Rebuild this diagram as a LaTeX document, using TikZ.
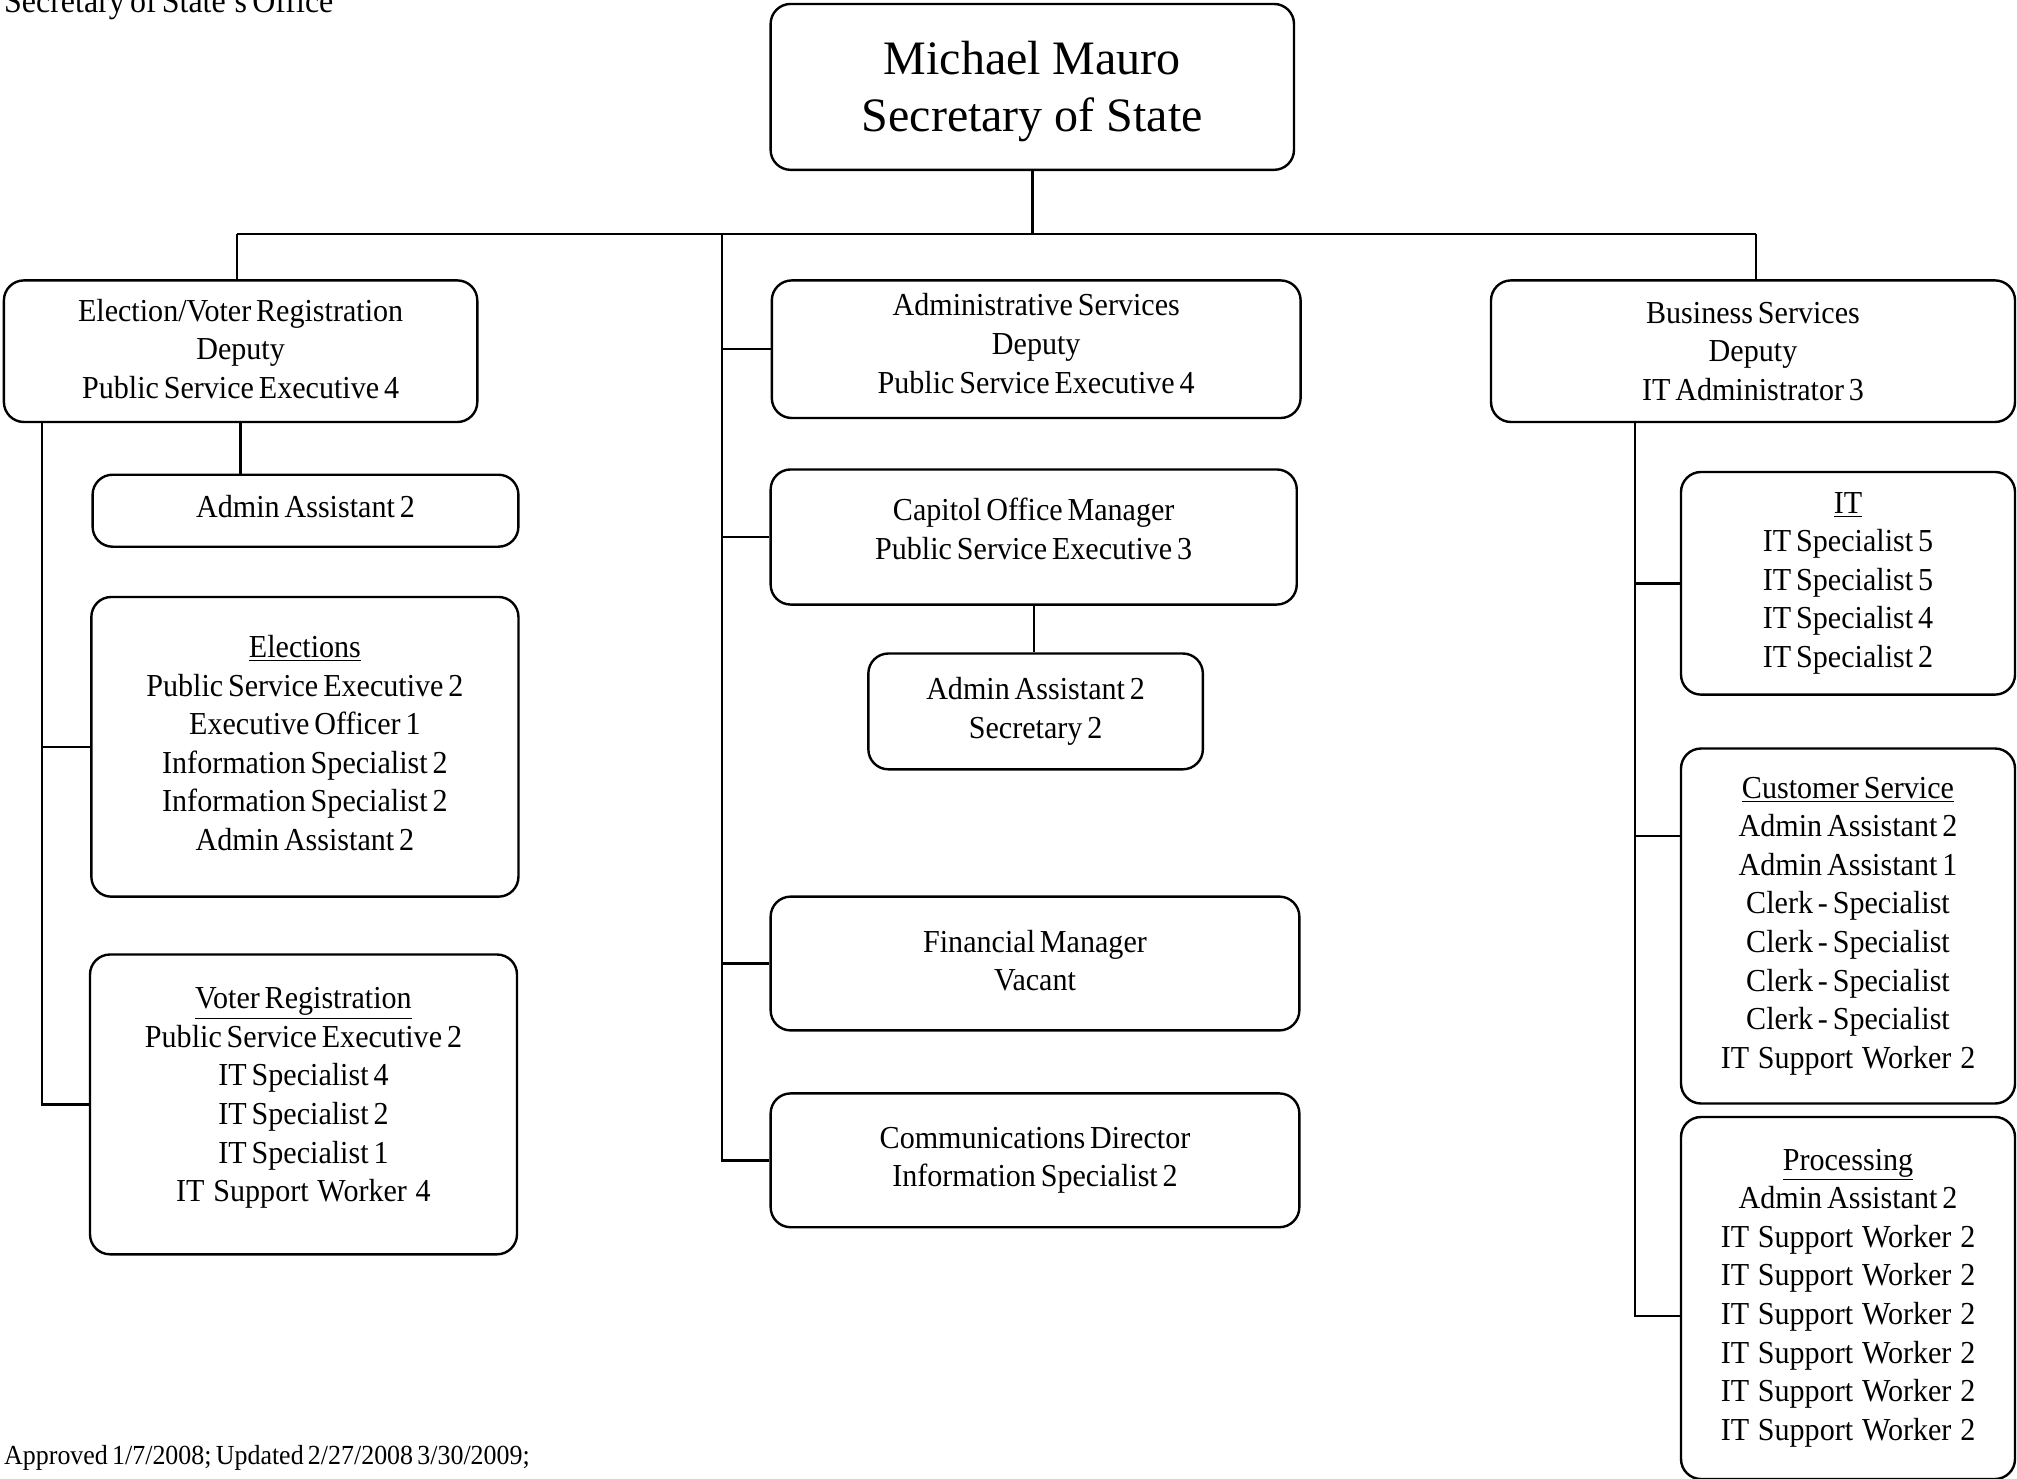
\documentclass[tikz,border=0pt]{standalone}
\usepackage{fontspec}
\setmainfont{Liberation Serif}[FakeStretch=0.94,WordSpace=0.65]
\newfontfamily\titlefont{Liberation Serif}
\usepackage{tikz}
\usetikzlibrary{positioning}
\usetikzlibrary{calc}
\tikzset{
    every picture/.append style={
        line width=1.2pt
    }
}
\tikzset{
    boxw/.style={minimum width=#1*0.5pt},
    boxh/.style={minimum height=#1*0.5pt},
    post/.style={shape=rectangle, draw=black, rounded corners=10pt, inner sep=0pt,
        align=center, font=\fontsize{16pt}{19.3pt}\selectfont},
}
\newcommand{\lowpad}[1]{\rule[-#1]{0pt}{0pt}}   % extra depth lifts the text
\newcommand{\wsp}{\spaceskip=4.4pt\relax}        % wider word spaces

\begin{document}
\begin{tikzpicture}[x=0.5pt, y=-0.5pt]
		\useasboundingbox (0,0) rectangle (2017,1478);
		\clip (0,0) rectangle (2017,1478);
		% headings
		\node[anchor=base west, inner sep=0pt, font=\fontsize{17pt}{20pt}\selectfont] (office) at (3,12.7) {Secretary of State's Office};
		\node[anchor=base west, inner sep=0pt, font=\fontsize{13.8pt}{16pt}\selectfont] (approved) at (3,1464) {Approved 1/7/2008; Updated 2/27/2008 3/30/2009;};
		
		\node[post, boxw=523.4, boxh=165.9, font=\titlefont\fontsize{24pt}{28.3pt}\selectfont] (chief) at (1032.3,86.9) {\rule{0pt}{21.5pt}Michael Mauro\\Secretary of State};
		
		% left column
		\node[post, boxw=473.4, boxh=141.6] (evr) at (240.6,351.2) {Election/Voter Registration\\Deputy\\Public Service Executive 4\lowpad{2.6pt}};
		\node[post, boxw=425.8, boxh=72] (evraa) at (305.5,510.7) {Admin Assistant 2\lowpad{3.9pt}};
		\node[post, boxw=427.1, boxh=299.7] (elec) at (304.9,746.8) {\underline{Elections}\\Public Service Executive 2\\Executive Officer 1\\Information Specialist 2\\Information Specialist 2\\Admin Assistant 2\lowpad{3.9pt}};
		\node[post, boxw=427, boxh=299.8] (voter) at (303.5,1104.4) {\underline{Voter Registration}\\Public Service Executive 2\\IT Specialist 4\\IT Specialist 2\\IT Specialist 1\\{\wsp IT Support Worker 4}\lowpad{9.9pt}};
		
		% middle column
		\node[post, boxw=528.8, boxh=137.6] (adm) at (1036.2,349.2) {Administrative Services\\Deputy\\Public Service Executive 4\lowpad{5.8pt}};
		\node[post, boxw=526.1, boxh=135.1] (cap) at (1033.7,537) {Capitol Office Manager\\Public Service Executive 3\lowpad{8.4pt}};
		\node[post, boxw=334.5, boxh=115.8] (capaa) at (1035.6,711.4) {Admin Assistant 2\\Secretary 2};
		\node[post, boxw=528.7, boxh=133.8] (fin) at (1035,963.5) {Financial Manager\\Vacant\lowpad{3.2pt}};
		\node[post, boxw=528.7, boxh=133.8] (comm) at (1035,1160.3) {Communications Director\\Information Specialist 2};
		
		% right column
		\node[post, boxw=524, boxh=141.6] (bus) at (1753,351.2) {Business Services\\Deputy\\IT Administrator 3};
		\node[post, boxw=334, boxh=222.6] (it) at (1848,583.3) {\underline{IT}\\IT Specialist 5\\IT Specialist 5\\IT Specialist 4\\IT Specialist 2};
		\node[post, boxw=334, boxh=355] (cust) at (1848,926) {\underline{Customer Service}\\Admin Assistant 2\\Admin Assistant 1\\Clerk - Specialist\\Clerk - Specialist\\Clerk - Specialist\\Clerk - Specialist\\{\wsp IT Support Worker 2}};
		\node[post, boxw=334, boxh=362] (proc) at (1848,1298) {\underline{Processing}\\Admin Assistant 2\\{\wsp IT Support Worker 2}\\{\wsp IT Support Worker 2}\\{\wsp IT Support Worker 2}\\{\wsp IT Support Worker 2}\\{\wsp IT Support Worker 2}\\{\wsp IT Support Worker 2}};
		
		% connectors
		\coordinate (hub) at (1032.3,234);
		\coordinate (hl) at (236.7,234);
		\coordinate (hr) at (1756,234);
		\coordinate (mt) at (721.7,234);
		\coordinate (lt) at (42,422);
		\coordinate (rt) at (1635,422);
		\coordinate (rc) at (1635,835.7);
		\coordinate (rp) at (1635,1316);
		
		\path [-] (chief) edge (hub);
		\path [-] (hl) edge (hr);
		\path [-] (hl) edge (hl |- evr.north);
		\path [-] (hr) edge (hr |- bus.north);
		\path [-] (evr.south) edge (evr.south |- evraa.north);
		\draw (lt) |- (voter.west);
		\path [-] (lt |- elec.west) edge (elec.west);
		\draw (mt) |- (comm.west);
		\path [-] (mt |- adm.west) edge (adm.west);
		\path [-] (mt |- cap.west) edge (cap.west);
		\path [-] (mt |- fin.west) edge (fin.west);
		\path [-] (cap.south) edge (cap.south |- capaa.north);
		\draw (rt) -- (rp) -- (rp -| proc.west);
		\path [-] (rt |- it.west) edge (it.west);
		\path [-] (rc) edge (rc -| cust.west);
		\end{tikzpicture}
\end{document}
